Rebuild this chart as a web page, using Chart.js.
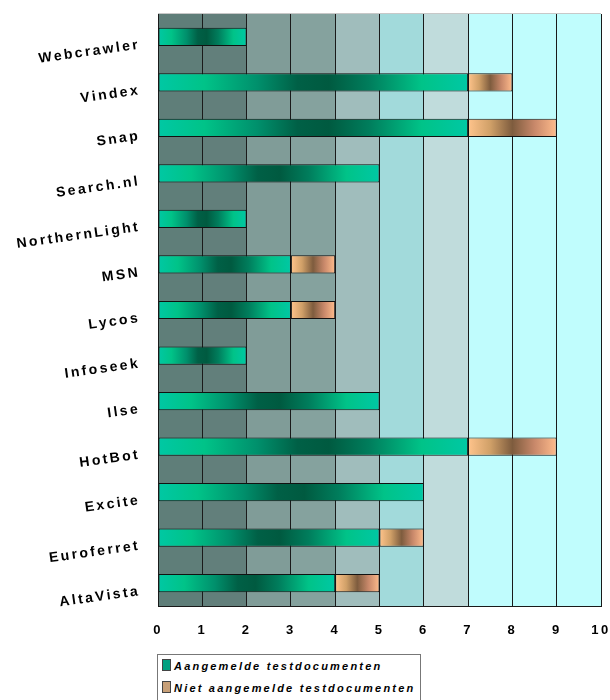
<!DOCTYPE html>
<html>
<head>
<meta charset="utf-8">
<script src="https://cdn.jsdelivr.net/npm/chart.js@4.4.1/dist/chart.umd.min.js"></script>
<style>
  body { margin: 0; background: #fff; font-family: "Liberation Sans", Arial, sans-serif; }
  #wrap { position: relative; width: 610px; height: 700px; overflow: hidden; }
  #legend {
    position: absolute; left: 157px; top: 654px; width: 262px; height: 50px;
    border: 1px solid #777; background: #fff;
    font: italic bold 11px "Liberation Sans", Arial, sans-serif; letter-spacing: 2.2px;
  }
  #legend div { height: 22px; line-height: 22px; padding-left: 4px; white-space: nowrap; }
  #legend span { display: inline-block; width: 7px; height: 10px; margin-right: 3px; vertical-align: -1px; border: 1px solid #444; }
</style>
</head>
<body>
<div id="wrap">
  <canvas id="chart" width="610" height="650"></canvas>
  <div id="legend"></div>
</div>
<script>
// data
const engines = ['Webcrawler', 'Vindex', 'Snap', 'Search.nl', 'NorthernLight', 'MSN', 'Lycos',
                 'Infoseek', 'Ilse', 'HotBot', 'Excite', 'Euroferret', 'AltaVista'];
const aangemeld = [2, 7, 7, 5, 2, 3, 3, 2, 5, 7, 6, 5, 4];
const nietAangemeld = [0, 1, 2, 0, 0, 1, 1, 0, 0, 2, 0, 1, 1];
const seriesNames = ['Aangemelde testdocumenten', 'Niet aangemelde testdocumenten'];
const xTicks = [0, 1, 2, 3, 4, 5, 6, 7, 8, 9, 10];

// background colour of each unit-wide column
const bandColors = ['#5f7e79', '#627f7b', '#809c98', '#85a29e', '#a0bdbc',
                    '#a2dadb', '#c0dcdc', '#c0fcfd', '#c0fdfd', '#c0fdfd'];

function barGradient(context, stops, fallback) {
    const chart = context.chart;
    if (!chart.chartArea || !chart.scales.x) return fallback;
    const i = context.dataIndex;
    const start = context.datasetIndex === 0 ? 0 : aangemeld[i];
    const end = context.datasetIndex === 0 ? aangemeld[i] : aangemeld[i] + nietAangemeld[i];
    const x0 = chart.scales.x.getPixelForValue(start);
    const x1 = chart.scales.x.getPixelForValue(end);
    if (x1 - x0 < 1) return fallback;
    const g = chart.ctx.createLinearGradient(x0, 0, x1, 0);
    stops.forEach(s => g.addColorStop(s[0], s[1]));
    return g;
}

const tealStops = [[0, '#00c8a4'], [0.15, '#00c388'], [0.32, '#00906c'], [0.45, '#006046'],
                   [0.55, '#005a40'], [0.68, '#007d5c'], [0.85, '#00c388'], [1, '#00c8a4']];
const orangeStops = [[0, '#ffc48c'], [0.25, '#d0a068'], [0.5, '#7e5c3e'], [0.75, '#c8886a'], [1, '#ffbc8c']];

const bgPlugin = {
    id: 'bands',
    beforeLayout(chart) { chart.ctx.letterSpacing = '2.4px'; },
    beforeDraw(chart) {
        const ctx = chart.ctx;
        ctx.letterSpacing = '2.4px';
        const x = chart.scales.x;
        const area = chart.chartArea;
        ctx.save();
        bandColors.forEach((c, i) => {
            const a = x.getPixelForValue(i);
            const b = x.getPixelForValue(i + 1);
            ctx.fillStyle = c;
            ctx.fillRect(a, area.top, b - a, area.bottom - area.top);
        });
        ctx.restore();
    },
    afterDraw(chart) {
        const ctx = chart.ctx;
        const area = chart.chartArea;
        ctx.save();
        ctx.strokeStyle = '#c8c8c8';
        ctx.beginPath();
        ctx.moveTo(area.left, area.top - 0.5);
        ctx.lineTo(area.right, area.top - 0.5);
        ctx.stroke();
        ctx.restore();
    }
};

new Chart(document.getElementById('chart'), {
    type: 'bar',
    data: {
        labels: engines,
        datasets: [{
            label: seriesNames[0],
            data: aangemeld,
            backgroundColor: c => barGradient(c, tealStops, '#00a080'),
            borderColor: '#111',
            borderWidth: 1,
            borderSkipped: false,
            barPercentage: 0.8,
            categoryPercentage: 0.5
        }, {
            label: seriesNames[1],
            data: nietAangemeld,
            backgroundColor: c => barGradient(c, orangeStops, '#c09070'),
            borderColor: '#111',
            borderWidth: 1,
            borderSkipped: false,
            barPercentage: 0.8,
            categoryPercentage: 0.5
        }]
    },
    options: {
        indexAxis: 'y',
        responsive: false,
        animation: false,
        layout: { padding: { top: 14, right: 9, left: 0, bottom: 0 } },
        plugins: { legend: { display: false }, tooltip: { enabled: false } },
        scales: {
            x: {
                stacked: true,
                min: 0,
                max: 10,
                afterBuildTicks: s => { s.ticks = xTicks.map(v => ({ value: v })); },
                afterFit: s => { s.height = 44; s.paddingLeft = 0; s.paddingRight = 0; },
                grid: { color: '#1a1a1a', lineWidth: 1, drawTicks: false },
                border: { color: '#1a1a1a' },
                ticks: {
                    padding: 17,
                    color: '#000',
                    font: { family: 'Liberation Sans', size: 13, weight: 'bold' }
                }
            },
            y: {
                stacked: true,
                afterFit: s => { s.width = 158; s.paddingTop = 0; s.paddingBottom = 0; },
                grid: { display: false },
                border: { color: '#1a1a1a' },
                ticks: {
                    padding: 10,
                    minRotation: 8,
                    maxRotation: 8,
                    labelOffset: 8,
                    color: '#000',
                    font: { family: 'Liberation Sans', size: 14, weight: 'bold' }
                }
            }
        }
    },
    plugins: [bgPlugin]
});

// legend under the chart
const legendColors = ['#00a080', '#c8a078'];
document.getElementById('legend').innerHTML = seriesNames.map((n, i) =>
    '<div><span style="background:' + legendColors[i] + '"></span>' + n + '</div>').join('');
</script>
</body>
</html>
